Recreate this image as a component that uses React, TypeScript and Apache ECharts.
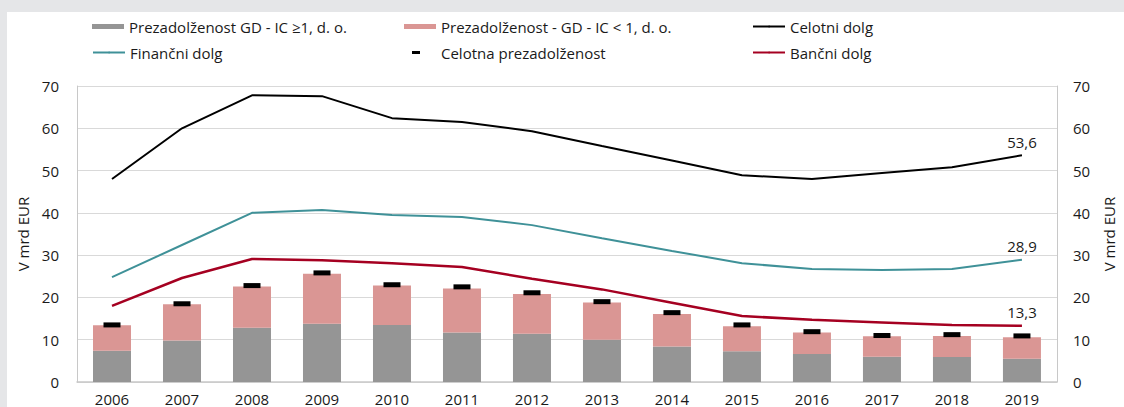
import React, { useEffect, useRef } from "react";
import * as echarts from "echarts";

const years = ["2006","2007","2008","2009","2010","2011","2012","2013","2014","2015","2016","2017","2018","2019"];
const overGe1 = [7.4, 9.8, 12.8, 13.8, 13.5, 11.7, 11.4, 10.0, 8.4, 7.3, 6.6, 6.0, 5.9, 5.5];
const overLt1 = [6.0, 8.6, 9.8, 11.8, 9.3, 10.4, 9.4, 8.8, 7.7, 5.9, 5.1, 4.8, 5.0, 5.1];
const totalOver = [13.5, 18.5, 22.8, 25.8, 23.0, 22.5, 21.1, 19.0, 16.4, 13.5, 11.9, 11.0, 11.2, 10.9];
const totalDebt = [48.0, 60.0, 67.8, 67.6, 62.4, 61.5, 59.3, 55.8, 52.4, 48.9, 48.0, 49.4, 50.8, 53.6];
const finDebt = [24.8, 32.4, 40.0, 40.7, 39.5, 39.0, 37.1, 34.0, 31.0, 28.1, 26.7, 26.5, 26.7, 28.9];
const bankDebt = [18.0, 24.6, 29.1, 28.8, 28.1, 27.2, 24.4, 21.9, 18.75, 15.6, 14.7, 14.1, 13.5, 13.3];
const yTicks = [0, 10, 20, 30, 40, 50, 60, 70];

const N1 = "Prezadolženost GD - IC ≥1, d. o.";
const N2 = "Prezadolženost - GD - IC < 1, d. o.";
const N3 = "Celotni dolg";
const N4 = "Finančni dolg";
const N5 = "Celotna prezadolženost";
const N6 = "Bančni dolg";

const FONT = "'Open Sans', 'Noto Sans', sans-serif";

function withLastLabel(vals: number[]) {
  return vals.map((v, i) =>
    i === vals.length - 1
      ? {
          value: v,
          label: {
            show: true,
            position: "top",
            distance: 6,
            color: "#1a1a1a",
            fontSize: 15,
            fontFamily: FONT,
            formatter: (p: any) => String(p.value).replace(".", ","),
          },
        }
      : v
  );
}

export default function App() {
  const ref = useRef<HTMLDivElement>(null);
  useEffect(() => {
    if (!ref.current) return;
    const chart = echarts.init(ref.current, undefined, { renderer: "svg" });
    const textStyle = { fontSize: 15, fontFamily: FONT, color: "#1a1a1a" };
    const mkLegend = (name: string, left: number, top: number, w: number, h: number, extra: any = {}) => ({
      data: [{ name, ...extra }],
      left,
      top,
      padding: 0,
      itemWidth: w,
      itemHeight: h,
      textStyle,
      selectedMode: false,
    });
    const yAxisBase = {
      type: "value",
      min: yTicks[0],
      max: yTicks[yTicks.length - 1],
      interval: yTicks[1] - yTicks[0],
      name: "V mrd EUR",
      nameLocation: "middle",
      nameRotate: 90,
      nameTextStyle: { fontSize: 15, fontFamily: FONT, color: "#1a1a1a" },
      axisLine: { show: true, lineStyle: { color: "#c8c8c8", width: 1 } },
      axisTick: { show: false },
      splitLine: { show: true, lineStyle: { color: "#d9d9d9", width: 1 } },
      axisLabel: { fontSize: 15, fontFamily: FONT, color: "#1a1a1a" },
    };
    const lineBase = {
      type: "line",
      symbol: "circle",
      symbolSize: 0,
      showSymbol: true,
      z: 4,
    };
    chart.setOption({
      animation: false,
      backgroundColor: "#ffffff",
      legend: [
        mkLegend(N1, 85, 7, 32, 5, { icon: "rect" }),
        mkLegend(N4, 85, 33, 32, 2),
        mkLegend(N2, 397, 7, 32, 5, { icon: "rect" }),
        mkLegend(N5, 397, 33, 32, 5, { icon: "path://M0,0M32,5M8,1h8v3h-8z" }),
        mkLegend(N3, 745, 7, 32, 2),
        mkLegend(N6, 745, 33, 32, 2),
      ],
      grid: { left: 70, right: 61, top: 74, bottom: 25 },
      xAxis: {
        type: "category",
        data: years,
        axisLine: { show: true, lineStyle: { color: "#c8c8c8", width: 1.5 } },
        axisTick: { show: false },
        axisLabel: { fontSize: 15, fontFamily: FONT, color: "#1a1a1a", margin: 9 },
      },
      yAxis: [
        { ...yAxisBase, position: "left", nameGap: 42, axisLabel: { ...yAxisBase.axisLabel, margin: 18 } },
        { ...yAxisBase, position: "right", nameGap: 40, axisLabel: { ...yAxisBase.axisLabel, margin: 16 } },
      ],
      series: [
        {
          name: N1,
          type: "bar",
          stack: "over",
          data: overGe1,
          barWidth: 38,
          itemStyle: { color: "#959595" },
          z: 1,
        },
        {
          name: N2,
          type: "bar",
          stack: "over",
          data: overLt1,
          barWidth: 38,
          itemStyle: { color: "#da9694" },
          z: 1,
        },
        {
          name: N5,
          type: "scatter",
          data: totalOver,
          symbol: "rect",
          symbolSize: [17, 5],
          itemStyle: { color: "#000000", opacity: 1 },
          z: 3,
        },
        {
          ...lineBase,
          name: N3,
          data: withLastLabel(totalDebt),
          lineStyle: { color: "#000000", width: 2 },
          itemStyle: { color: "#000000" },
        },
        {
          ...lineBase,
          name: N4,
          data: withLastLabel(finDebt),
          lineStyle: { color: "#3f9198", width: 2 },
          itemStyle: { color: "#3f9198" },
        },
        {
          ...lineBase,
          name: N6,
          data: withLastLabel(bankDebt),
          lineStyle: { color: "#a50021", width: 2.5 },
          itemStyle: { color: "#a50021" },
        },
      ],
    });
    return () => chart.dispose();
  }, []);
  return (
    <div style={{ position: "fixed", left: 0, top: 0, width: 1124, height: 407, background: "#e5e6e8" }}>
      <div ref={ref} style={{ position: "absolute", left: 7, top: 12, width: 1117, height: 395, background: "#fff" }} />
    </div>
  );
}
